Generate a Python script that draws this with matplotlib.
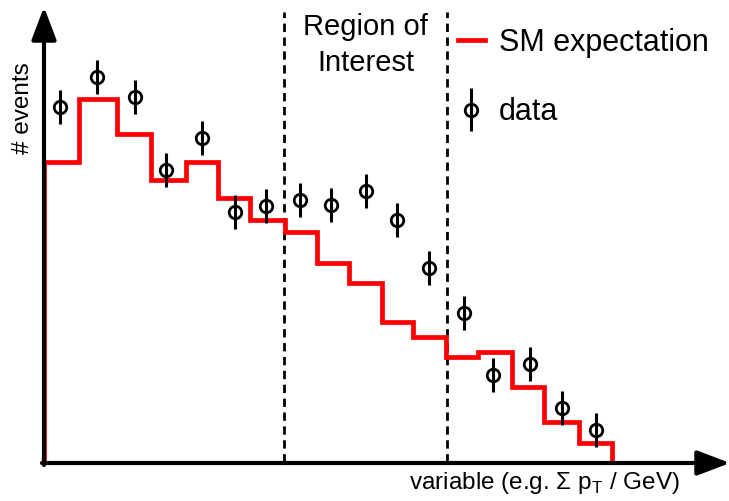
import matplotlib
matplotlib.use("Agg")
import matplotlib.pyplot as plt
from matplotlib.lines import Line2D
from matplotlib.legend_handler import HandlerErrorbar

plt.rcParams['font.family'] = ['Liberation Sans', 'DejaVu Sans']
plt.rcParams['mathtext.fontset'] = 'custom'
plt.rcParams['mathtext.rm'] = 'Liberation Sans'

# Standard Model expectation, one value per bin (arbitrary units)
bin_edges = [0, 35, 73, 107, 142, 174, 206, 241, 273, 305, 338, 369,
             402, 434, 468, 500, 535, 568]
sm_counts = [300, 363, 328, 282, 300, 264, 242, 230, 199, 179, 140, 125,
             105, 110, 75, 40, 19]

# observed data
data_x = [16, 53, 91, 122, 158, 191, 222, 256, 287, 322, 353, 385,
          420, 449, 486, 518, 552]
data_y = [355, 385, 365, 292, 324, 250, 256, 262, 257, 271, 242, 194,
          149, 87, 98, 54, 32]
data_err = [17] * 17

# boundaries of the signal region
roi_low = 240
roi_high = 403


def main():
    """Sketch of an excess over the SM expectation in a region of interest"""

    fig = plt.figure(figsize=(7.29, 5.01), dpi=100)
    ax = fig.add_axes([0, 0, 1, 1])
    ax.set_xlim(-44, 685)
    ax.set_ylim(-39, 462)
    ax.axis("off")

    ax.stairs(sm_counts, bin_edges, baseline=0, color="red", lw=3.4,
              zorder=3)
    data = ax.errorbar(data_x, data_y, yerr=data_err, fmt="o",
                       color="black", mfc="none", ms=9, mew=2,
                       elinewidth=2.2, capsize=0, zorder=4)

    for xv in (roi_low, roi_high):
        ax.plot([xv, xv], [0, 450], color="black", lw=2,
                ls=(0, (3, 2)), zorder=2)

    ax.text((roi_low + roi_high) / 2, 449, "Region of\nInterest",
            ha="center", va="top", fontsize=21, linespacing=1.35)

    # axes drawn as arrows
    arrow = dict(arrowstyle="-|>,head_length=1.0,head_width=0.38",
                 mutation_scale=20, lw=3, color="black",
                 shrinkA=0, shrinkB=0)
    ax.annotate("", xy=(0, 455), xytext=(0, -3), arrowprops=arrow,
                zorder=5, annotation_clip=False)
    ax.annotate("", xy=(686, -1), xytext=(-2, -1), arrowprops=arrow,
                zorder=5, annotation_clip=False)

    ax.text(-21, 354, "# events", rotation=90, ha="center",
            va="center", fontsize=17.5)
    ax.text(500, -21, r"variable (e.g. Σ p$_\mathregular{T}$ / GeV)",
            ha="center", va="center", fontsize=17.5)

    handles = [Line2D([], [], color="red", lw=3.4), data]
    ax.legend(handles, ["SM expectation", "data"],
              loc="upper left", bbox_to_anchor=(0.59, 1.0),
              frameon=False, fontsize=22, handlelength=0.9,
              handletextpad=0.45, labelspacing=1.3,
              handler_map={data: HandlerErrorbar(yerr_size=0.7)})

    fig.savefig("out.png", dpi=100)


if __name__ == "__main__":
    main()
